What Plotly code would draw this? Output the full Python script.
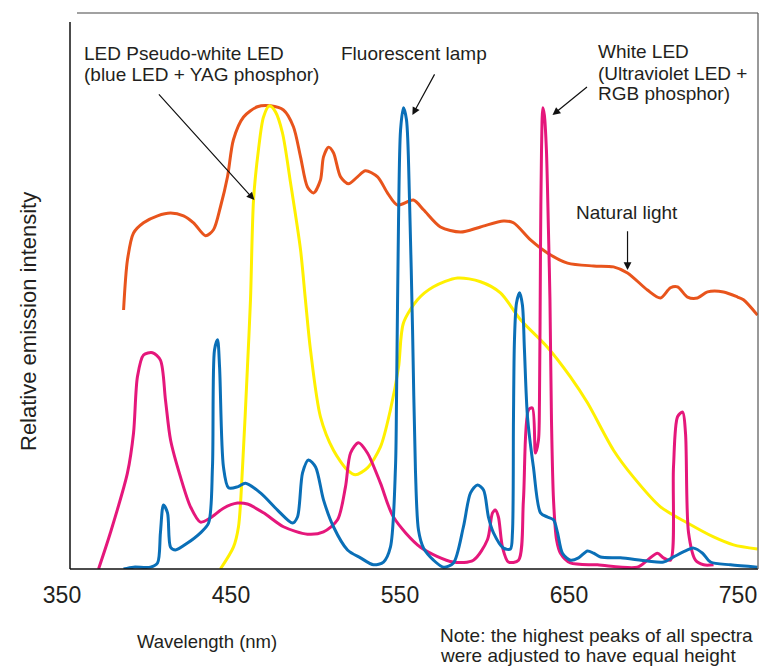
import plotly.graph_objects as go

# ---- data (wavelength in nm, relative emission intensity in %) ----
natural_nm = [381.7, 384.0, 387.6, 393.5, 401.8, 409.5, 417.2, 423.1, 430.2, 434.9, 439.0, 443.2,
              446.7, 452.7, 460.9, 468.6, 476.3, 482.2, 486.4, 490.5, 494.1, 498.2, 500.0, 503.0,
              505.9, 510.1, 514.8, 520.1, 524.8, 532.0, 537.9, 543.8, 553.2, 559.2, 569.2, 581.1,
              592.9, 606.5, 612.4, 622.5, 632.5, 644.4, 659.8, 671.6, 679.9, 691.7, 699.4, 705.3,
              709.5, 715.4, 721.3, 727.2, 736.7, 745.0, 748.5, 756.8]
natural_val = [55.8, 66.6, 72.4, 74.6, 76.1, 76.7, 76.1, 74.6, 71.8, 73.1, 78.0, 84.5,
               92.5, 97.4, 99.6, 99.8, 98.9, 95.3, 88.8, 82.3, 81.0, 83.8, 88.8, 90.9,
               89.7, 84.5, 83.0, 84.5, 85.8, 84.5, 81.0, 78.4, 79.5, 77.4, 73.7, 72.6,
               73.7, 75.0, 74.6, 70.9, 68.1, 65.9, 65.3, 65.1, 63.8, 60.1, 58.4, 60.6,
               60.8, 58.6, 58.4, 59.7, 59.7, 58.6, 58.0, 54.7]

yag_nm = [439.0, 446.7, 449.7, 452.1, 455.0, 456.8, 458.6, 461.5, 464.5, 468.0, 471.6, 475.7,
          480.5, 486.4, 489.3, 492.3, 498.2, 505.9, 514.2, 518.9, 526.0, 533.7, 539.6, 544.4,
          547.3, 555.6, 565.1, 579.3, 592.9, 604.7, 616.6, 632.5, 646.1, 656.2, 671.6, 683.4,
          699.4, 715.4, 730.8, 742.6, 756.8]
yag_val = [0.0, 4.7, 9.1, 22.0, 43.5, 58.0, 79.5, 90.3, 97.4, 99.8, 98.5, 94.0,
           83.2, 68.8, 58.0, 47.2, 32.8, 25.6, 21.3, 20.3, 21.8, 26.3, 34.3, 43.5,
           53.0, 58.0, 60.8, 62.7, 61.9, 59.5, 53.7, 47.8, 41.4, 35.8, 25.6, 19.8,
           13.4, 9.9, 6.9, 5.2, 4.3]

fluor_nm = [381.7, 387.6, 397.6, 401.8, 403.5, 405.3, 407.7, 409.5, 412.4, 419.5, 427.2, 432.0,
            434.3, 435.5, 437.3, 438.5, 440.8, 443.8, 449.1, 453.8, 462.7, 472.8, 481.7, 484.6,
            487.6, 491.1, 495.3, 500.0, 505.9, 514.2, 521.9, 529.6, 535.5, 539.6, 542.6, 543.2,
            544.4, 545.6, 547.3, 549.1, 550.9, 552.7, 554.4, 556.2, 559.2, 565.1, 571.0, 576.9,
            582.8, 587.0, 591.1, 594.7, 597.6, 600.6, 606.5, 610.6, 611.8, 612.4, 613.0, 614.2,
            616.0, 617.7, 618.9, 620.7, 624.2, 628.4, 632.5, 636.1, 638.5, 641.4, 646.2, 650.9,
            656.2, 659.8, 663.9, 675.7, 691.7, 701.2, 707.1, 715.4, 719.0, 724.3, 729.0, 740.8,
            756.8]
fluor_val = [0.0, 0.4, 0.4, 1.3, 7.8, 13.8, 12.1, 4.7, 4.1, 5.6, 7.8, 9.9,
             22.0, 47.2, 49.4, 43.5, 22.0, 17.5, 17.7, 18.5, 16.4, 12.7, 9.9, 11.2,
             20.7, 23.5, 22.0, 14.9, 9.1, 4.1, 2.4, 0.9, 1.5, 4.7, 22.0, 36.4,
             75.2, 94.6, 99.4, 96.8, 79.5, 51.5, 21.3, 8.4, 4.5, 1.9, 0.4, 1.3,
             9.1, 16.4, 18.1, 17.0, 11.2, 7.8, 4.5, 4.3, 7.8, 32.1, 49.4, 57.3,
             59.5, 56.9, 47.2, 32.8, 22.0, 12.1, 11.2, 10.6, 7.8, 3.4, 1.9, 2.4,
             3.9, 3.4, 2.6, 2.4, 1.7, 1.5, 2.6, 4.1, 4.5, 3.4, 1.5, 0.9,
             0.4]

uv_nm = [366.9, 373.9, 384.0, 387.6, 389.9, 393.5, 398.8, 403.5, 406.5, 409.5, 415.4, 421.3,
         427.2, 433.1, 440.8, 449.1, 455.0, 464.5, 476.3, 490.5, 500.0, 508.3, 513.0, 516.0,
         520.7, 526.0, 533.7, 541.4, 557.4, 576.9, 588.7, 597.0, 600.0, 601.7, 603.5, 605.9,
         609.4, 615.4, 618.3, 621.3, 623.6, 625.4, 627.2, 627.8, 628.4, 629.0, 629.8, 630.7,
         631.9, 633.1, 634.0, 634.9, 636.1, 637.9, 640.2, 646.1, 662.1, 685.7, 691.7, 697.6,
         701.2, 705.3, 707.1, 709.5, 712.5, 714.2, 716.0, 720.1, 724.9, 730.8]
uv_val = [0.0, 7.8, 20.7, 29.3, 41.4, 46.1, 46.6, 45.0, 36.4, 27.8, 19.8, 13.4,
          10.1, 11.0, 13.1, 14.2, 14.0, 12.1, 9.1, 7.5, 8.0, 10.6, 17.7, 25.0,
          27.2, 25.0, 18.5, 11.2, 4.7, 1.5, 1.9, 6.3, 12.1, 12.7, 11.2, 4.7,
          1.5, 1.9, 14.9, 34.3, 34.7, 25.0, 27.8, 36.4, 68.8, 90.3, 99.4, 97.8,
          90.3, 73.1, 58.0, 32.1, 14.9, 6.3, 3.4, 1.3, 0.9, 0.4, 1.9, 3.4,
          2.4, 1.9, 22.0, 32.8, 33.8, 29.3, 7.8, 1.9, 0.9, 0.9]

x_ticks = [350, 450, 550, 650, 750]
x_range = [350, 757.1]
y_range = [0, 119.8]

FONT = "Liberation Sans, Arial, Helvetica, sans-serif"
TXT = "#231f20"

fig = go.Figure()
series = [
    (natural_nm, natural_val, "#e8541c", "Natural light"),
    (yag_nm, yag_val, "#fff000", "LED Pseudo-white LED"),
    (uv_nm, uv_val, "#e5177b", "White LED"),
    (fluor_nm, fluor_val, "#0a6fb7", "Fluorescent lamp"),
]
for xs, ys, col, name in series:
    fig.add_trace(go.Scatter(x=xs, y=ys, mode="lines", name=name,
                             line=dict(color=col, width=3, shape="spline", smoothing=0.8),
                             hoverinfo="skip"))

# page is rendered with an 8px body margin; positions below are in page pixels
def W(px):  # page pixel -> paper x
    return (px - 70) / 688.0

def H(py):  # page pixel -> paper y
    return (569 - py) / 556.0

ann = []
def label(text, px, py, size=19, anchor="left", angle=0):
    ann.append(dict(text=text, xref="paper", yref="paper", x=W(px), y=H(py),
                    xanchor=anchor, yanchor="middle", showarrow=False, textangle=angle,
                    font=dict(family=FONT, size=size, color=TXT)))

label("LED Pseudo-white LED", 82, 54)
label("(blue LED + YAG phosphor)", 82, 75)
label("Fluorescent lamp", 339, 53)
label("White LED", 596, 51)
label("(Ultraviolet LED +", 596, 73)
label("RGB phosphor)", 596, 94)
label("Natural light", 574, 212)
label("Note: the highest peaks of all spectra", 438, 635)
label("were adjusted to have equal height", 438, 655)
label("Wavelength (nm)", 207, 641, size=18.5, anchor="center")
label("Relative emission intensity", 28, 322, size=22, anchor="center", angle=-90)

arrows = [
    (401.8, 102.6, 459.1, 79.5),
    (566.2, 106.9, 552.6, 97.8),
    (656.8, 104.1, 635.5, 97.8),
    (679.9, 73.1, 679.9, 64.4),
]
for tx, ty, hx, hy in arrows:
    ann.append(dict(x=hx, y=hy, ax=tx, ay=ty, xref="x", yref="y", axref="x", ayref="y",
                    text="", showarrow=True, arrowhead=2, arrowsize=1.3, arrowwidth=1.2,
                    arrowcolor="#111", standoff=0))

shapes = [
    dict(type="line", xref="paper", yref="paper", x0=0, x1=0, y0=0, y1=H(22),
         line=dict(color="#111", width=1.5)),
    dict(type="line", xref="paper", yref="paper", x0=0, x1=1, y0=0, y1=0,
         line=dict(color="#111", width=1.5)),
    dict(type="line", xref="paper", yref="paper", x0=W(77), x1=1, y0=1, y1=1,
         line=dict(color="#444", width=1.2)),
    dict(type="line", xref="paper", yref="paper", x0=1, x1=1, y0=0, y1=1,
         line=dict(color="#555", width=1.2)),
]

fig.update_layout(
    width=764, height=658,
    margin=dict(l=62, r=14, t=5, b=97, pad=0),
    paper_bgcolor="white", plot_bgcolor="white",
    showlegend=False,
    annotations=ann, shapes=shapes,
    xaxis=dict(range=x_range, tickvals=x_ticks, ticktext=[str(v) for v in x_ticks],
               showgrid=False, zeroline=False, showline=False, ticks="",
               tickfont=dict(family=FONT, size=23, color=TXT),
               ticklabelstandoff=10, ticklabelshift=-8),
    yaxis=dict(range=y_range, showgrid=False, zeroline=False, showline=False,
               showticklabels=False, ticks=""),
)

fig.write_html("out.html")
